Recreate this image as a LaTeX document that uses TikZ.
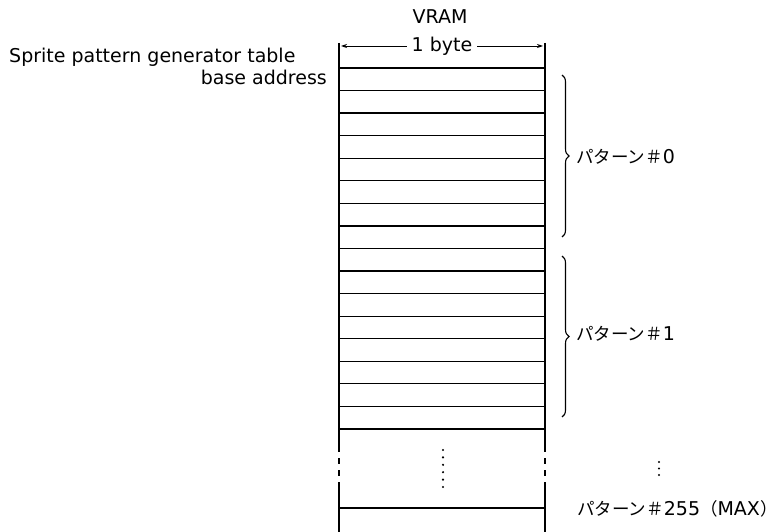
\documentclass[tikz,border=0pt]{standalone}
\usepackage{fontspec}
\setmainfont{DejaVu Sans}
\newfontfamily\jpfont{Noto Sans CJK JP}
\newcommand{\kana}[1]{{\jpfont\fontsize{17.5}{20}\selectfont #1}}
\usetikzlibrary{arrows.meta,decorations.pathreplacing}

\begin{document}
\begin{tikzpicture}[x=1pt,y=-1pt,
  txt/.style={font=\fontsize{19}{22}\selectfont, inner sep=0pt},
  wall/.style={line width=1.7pt},
  cell/.style={line width=1.3pt},
  arr/.style={line width=0.9pt, -{Stealth[length=6pt,width=4pt]}},
  brc/.style={decorate, decoration={brace, amplitude=7pt}, line width=1.1pt}]
\useasboundingbox (0,0) rectangle (778,532);
\node[txt, anchor=base] (vram) at (440,24) {VRAM};
\node[txt, anchor=base, inner xsep=5pt] (byte) at (442,52) {1 byte};
\coordinate (bl) at (341,46);
\coordinate (br) at (543,46);
\draw[arr] (byte.west |- bl) -- (bl);
\draw[arr] (byte.east |- br) -- (br);
\node[txt, anchor=base west] (sprite) at (9,63) {Sprite pattern generator table};
\node[txt, anchor=base east] (base) at (327,85) {base address};
\draw[wall] (339,43) -- (339,452);
\draw[wall] (339,458) -- (339,464);
\draw[wall] (339,470) -- (339,476);
\draw[wall] (339,482) -- (339,532);
\draw[wall] (545,43) -- (545,452);
\draw[wall] (545,458) -- (545,464);
\draw[wall] (545,470) -- (545,476);
\draw[wall] (545,482) -- (545,532);
\foreach \k in {0,...,16}
  \draw[cell] (339,68+22.56*\k) -- (545,68+22.56*\k);
\draw[cell] (339,508) -- (545,508);
\foreach \k in {0,...,5}
  \fill (443,450+7.4*\k) circle (1.2);
\foreach \k in {0,...,2}
  \fill (659,462+6.5*\k) circle (1.2);
\draw[brc] (562,75) -- (562,237);
\draw[brc] (562,256) -- (562,417);
\node[txt, anchor=west] (pat0) at (576,157) {\kana{パターン＃}0};
\node[txt, anchor=west] (pat1) at (576,334) {\kana{パターン＃}1};
\node[txt, anchor=base west] (patmax) at (577,515) {\kana{パターン＃}255\kana{（}MAX\kana{）}};
\end{tikzpicture}
\end{document}
